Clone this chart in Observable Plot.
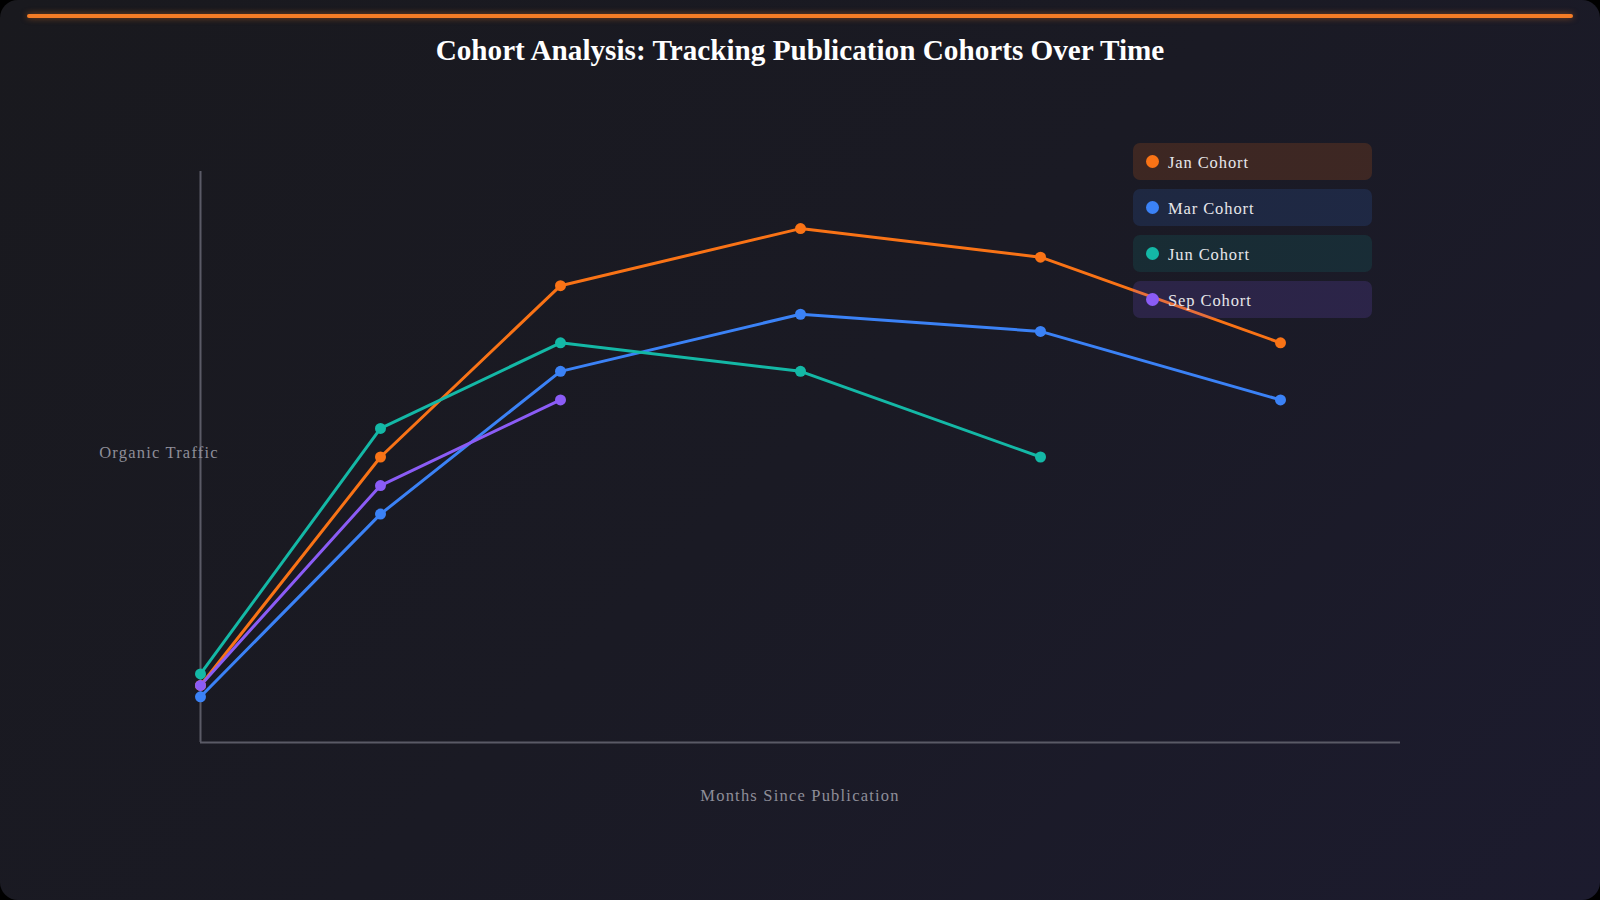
<!DOCTYPE html>
<html>
<head>
<meta charset="utf-8">
<script src="https://cdn.jsdelivr.net/npm/d3@7"></script>
<script src="https://cdn.jsdelivr.net/npm/@observablehq/plot@0.6"></script>
<style>
  html, body { margin: 0; padding: 0; background: #000; }
  #card {
    position: relative; width: 1600px; height: 900px; overflow: hidden;
    border-radius: 18px;
    background: linear-gradient(135deg, #19191e 0%, #1a1a24 50%, #1c1b2e 100%);
  }
  #bar {
    position: absolute; left: 27px; top: 14px; width: 1546px; height: 4px;
    background: #f47c26; border-radius: 2px; box-shadow: 0 0 6px rgba(244,124,38,0.5);
  }
  #title {
    position: absolute; left: 0; top: 34px; width: 1600px; text-align: center;
    font-family: "Liberation Serif", serif; font-weight: bold; font-size: 29.2px; color: #fff;
  }
  #chart { position: absolute; left: 0; top: 100px; }
  .axlabel {
    position: absolute; font-family: "Liberation Serif", serif; font-size: 16.5px; letter-spacing: 1.2px;
    color: #8e8e99; white-space: nowrap; transform: translate(-50%, -50%);
  }
  #legend { position: absolute; left: 1133px; top: 143px; width: 239px; }
  .item {
    height: 37px; margin-bottom: 9px; border-radius: 7px; display: flex; align-items: center;
    font-family: "Liberation Serif", serif; font-size: 16.5px; letter-spacing: 0.9px; color: #e6e6ea;
  }
  .item .lbl { padding-top: 3px; }
  .dot { width: 13px; height: 13px; border-radius: 50%; margin-left: 13px; margin-right: 9px; }
</style>
</head>
<body>
<div id="card">
  <div id="bar"></div>
  <div id="title">Cohort Analysis: Tracking Publication Cohorts Over Time</div>
  <div id="chart"></div>
  <div class="axlabel" style="left:159px; top:453px;">Organic Traffic</div>
  <div class="axlabel" style="left:800px; top:796px;">Months Since Publication</div>
  <div id="legend"></div>
</div>
<script>
const months = [0, 3, 6, 10, 14, 18];
const cohorts = ["Jan Cohort", "Mar Cohort", "Jun Cohort", "Sep Cohort"];
const colors = ["#f97316", "#3b82f6", "#14b8a6", "#8b5cf6"];
const legendBg = ["rgba(249,115,22,0.16)", "rgba(59,130,246,0.14)", "rgba(20,184,166,0.12)", "rgba(139,92,246,0.16)"];
const janTraffic = [200, 1000, 1600, 1800, 1700, 1400];
const marTraffic = [160, 800, 1300, 1500, 1440, 1200];
const junTraffic = [240, 1100, 1400, 1300, 1000];
const sepTraffic = [200, 900, 1200];

const series = [janTraffic, marTraffic, junTraffic, sepTraffic];
const rows = [];
series.forEach((vals, i) => vals.forEach((v, j) => rows.push({cohort: cohorts[i], month: months[j], traffic: v})));

const chart = Plot.plot({
  width: 1600,
  height: 760,
  marginTop: 71,
  marginBottom: 118,
  marginLeft: 200,
  marginRight: 200,
  style: {background: "transparent", overflow: "visible"},
  x: {domain: [0, 20], axis: null},
  y: {domain: [0, 2000], axis: null},
  color: {domain: cohorts, range: colors},
  marks: [
    Plot.ruleX([0], {stroke: "#5a5a66", strokeWidth: 2}),
    Plot.ruleY([0], {stroke: "#5a5a66", strokeWidth: 2}),
    Plot.line(rows, {x: "month", y: "traffic", z: "cohort", stroke: "cohort", strokeWidth: 3, curve: "linear"}),
    Plot.dot(rows, {x: "month", y: "traffic", fill: "cohort", r: 5.5})
  ]
});
document.getElementById("chart").appendChild(chart);

const legend = document.getElementById("legend");
cohorts.forEach((c, i) => {
  const it = document.createElement("div");
  it.className = "item";
  it.style.background = legendBg[i];
  it.innerHTML = `<span class="dot" style="background:${colors[i]}"></span><span class="lbl">${c}</span>`;
  legend.appendChild(it);
});
</script>
</body>
</html>
